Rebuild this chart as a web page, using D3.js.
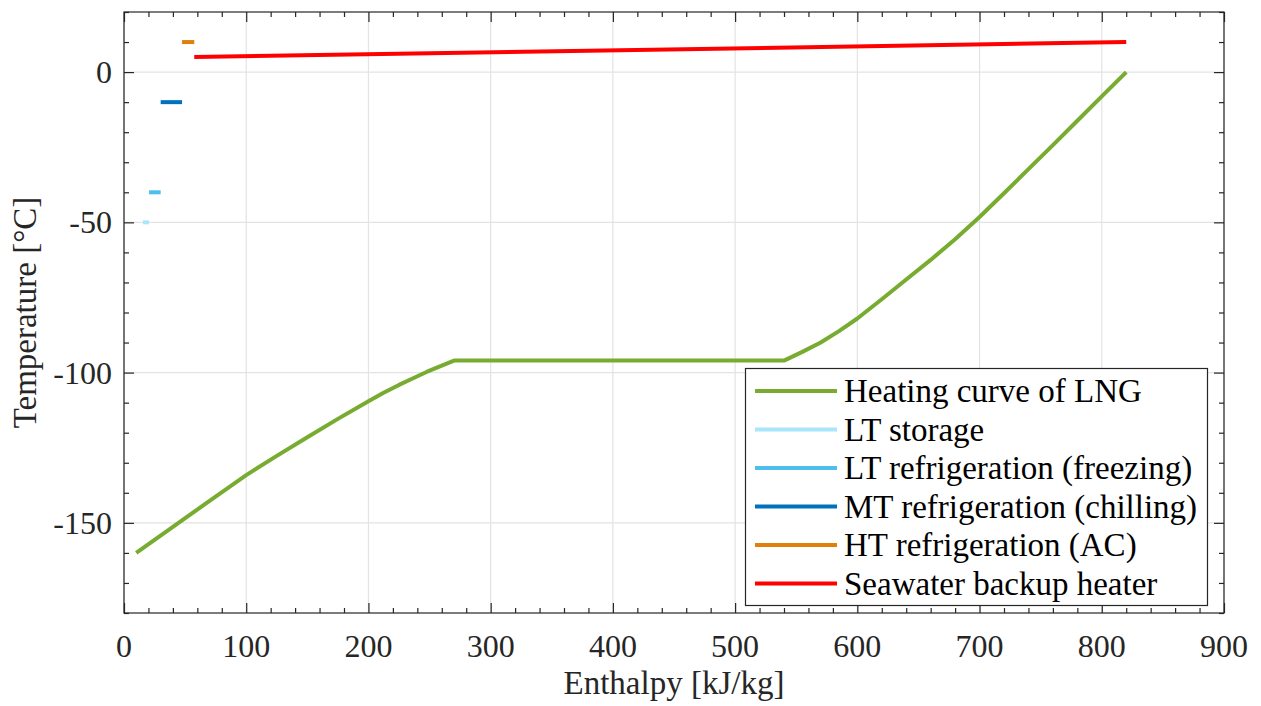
<!DOCTYPE html>
<html>
<head>
<meta charset="utf-8">
<script src="https://cdn.jsdelivr.net/npm/d3@7"></script>
<style>
  html, body { margin: 0; padding: 0; background: #fff; }
  svg { display: block; font-family: "Liberation Serif", "Times New Roman", serif; }
</style>
</head>
<body>
<svg id="chart" width="1261" height="706"></svg>
<script>
// Heating curve of LNG: enthalpy [kJ/kg] vs temperature [°C]
const lngEnthalpy = [10, 40, 70, 100, 125, 150, 175, 200, 212, 225, 237, 248, 270,
  540, 555, 570, 585, 600, 620, 640, 660, 680, 700, 720, 740, 760, 780, 800, 820];
const lngTemperature = [-160, -151.3, -142.7, -134.1, -127.7, -121.5, -115.4, -109.5, -106.8, -104.1, -101.8, -99.7, -96,
  -96, -93.1, -90, -86.2, -82, -75.6, -69, -62.5, -55.6, -48.2, -40.3, -32.3, -24.3, -16.2, -8.1, 0];

// Cold consumers and backup heater: [start, end] enthalpy and [start, end] temperature
const seriesNames = [
  "LT storage",
  "LT refrigeration (freezing)",
  "MT refrigeration (chilling)",
  "HT refrigeration (AC)",
  "Seawater backup heater"
];
const seriesEnthalpy = [[15.5, 20.5], [20.5, 30], [30, 47.5], [47.5, 57.5], [57.5, 820]];
const seriesTemperature = [[-50, -50], [-40, -40], [-10, -10], [10, 10], [5, 10]];
const seriesColors = ["#aae6fb", "#4dbeee", "#0072bd", "#e0800a", "#ff0000"];
const lngName = "Heating curve of LNG";
const lngColor = "#77ac30";

const xTicks = [0, 100, 200, 300, 400, 500, 600, 700, 800, 900];
const yTicks = [-150, -100, -50, 0];

const svg = d3.select("#chart");
const m = { left: 124, right: 1224, top: 12, bottom: 613 };
const x = d3.scaleLinear().domain([0, 900]).range([m.left, m.right]);
const y = d3.scaleLinear().domain([-180, 20]).range([m.bottom, m.top]);

const axisColor = "#262626";
const tickFont = 32;
const labelFont = 33;

// grid
const grid = svg.append("g");
xTicks.forEach(v => grid.append("line")
  .attr("x1", x(v)).attr("x2", x(v)).attr("y1", m.top).attr("y2", m.bottom)
  .attr("stroke", "#e3e3e3").attr("stroke-width", 1.2));
yTicks.forEach(v => grid.append("line")
  .attr("x1", m.left).attr("x2", m.right).attr("y1", y(v)).attr("y2", y(v))
  .attr("stroke", "#e3e3e3").attr("stroke-width", 1.2));

// data lines
const line = d3.line().x(d => x(d[0])).y(d => y(d[1]));
svg.append("path")
  .datum(lngEnthalpy.map((h, i) => [h, lngTemperature[i]]))
  .attr("d", line).attr("fill", "none")
  .attr("stroke", lngColor).attr("stroke-width", 4)
  .attr("stroke-linejoin", "round");

seriesNames.forEach((name, i) => {
  svg.append("path")
    .datum(seriesEnthalpy[i].map((h, j) => [h, seriesTemperature[i][j]]))
    .attr("d", line).attr("fill", "none")
    .attr("stroke", seriesColors[i]).attr("stroke-width", 4);
});

// axes with inward ticks on all four sides
const xMinor = d3.range(0, 901, 20).filter(v => v % 100 !== 0);
const yMinor = d3.range(-180, 21, 10).filter(v => v % 50 !== 0);

function styleAxis(g) {
  g.selectAll("path").remove();
  g.selectAll("line").attr("stroke", axisColor).attr("stroke-width", 1.2);
}
function ticks(axisFn, scale, values, size, pos, horizontal) {
  svg.append("g")
    .attr("transform", horizontal ? `translate(0,${pos})` : `translate(${pos},0)`)
    .call(axisFn(scale).tickValues(values).tickSizeInner(-size).tickSizeOuter(0).tickFormat(""))
    .call(styleAxis);
}
ticks(d3.axisBottom, x, xTicks, 10, m.bottom, true);
ticks(d3.axisTop, x, xTicks, 10, m.top, true);
ticks(d3.axisLeft, y, yTicks, 10, m.left, false);
ticks(d3.axisRight, y, yTicks, 10, m.right, false);
ticks(d3.axisBottom, x, xMinor, 5, m.bottom, true);
ticks(d3.axisTop, x, xMinor, 5, m.top, true);
ticks(d3.axisLeft, y, yMinor, 5, m.left, false);
ticks(d3.axisRight, y, yMinor, 5, m.right, false);

// box
svg.append("rect")
  .attr("x", m.left).attr("y", m.top)
  .attr("width", m.right - m.left).attr("height", m.bottom - m.top)
  .attr("fill", "none").attr("stroke", axisColor).attr("stroke-width", 1.2);

// tick labels
svg.append("g").selectAll("text").data(xTicks).join("text")
  .attr("x", d => x(d)).attr("y", 657)
  .attr("text-anchor", "middle").attr("font-size", tickFont).attr("fill", axisColor)
  .text(d => d);
svg.append("g").selectAll("text").data(yTicks).join("text")
  .attr("x", 112).attr("y", d => y(d) + 11)
  .attr("text-anchor", "end").attr("font-size", tickFont).attr("fill", axisColor)
  .text(d => d);

// axis titles
svg.append("text")
  .attr("x", (m.left + m.right) / 2).attr("y", 694)
  .attr("text-anchor", "middle").attr("font-size", labelFont).attr("fill", axisColor)
  .text("Enthalpy [kJ/kg]");
svg.append("text")
  .attr("transform", `translate(36,${(m.top + m.bottom) / 2}) rotate(-90)`)
  .attr("text-anchor", "middle").attr("font-size", labelFont).attr("fill", axisColor)
  .text("Temperature [°C]");

// legend
const legendNames = [lngName].concat(seriesNames);
const legendColors = [lngColor].concat(seriesColors);
const lg = svg.append("g");
lg.append("rect")
  .attr("x", 745.5).attr("y", 368.5).attr("width", 462).attr("height", 237)
  .attr("fill", "#fff").attr("stroke", axisColor).attr("stroke-width", 1.2);
legendNames.forEach((name, i) => {
  const yy = 391 + i * 38.5;
  lg.append("line")
    .attr("x1", 755).attr("x2", 837).attr("y1", yy).attr("y2", yy)
    .attr("stroke", legendColors[i]).attr("stroke-width", 4);
  lg.append("text")
    .attr("x", 844).attr("y", yy + 11)
    .attr("font-size", labelFont).attr("fill", "#000")
    .text(name);
});
</script>
</body>
</html>
